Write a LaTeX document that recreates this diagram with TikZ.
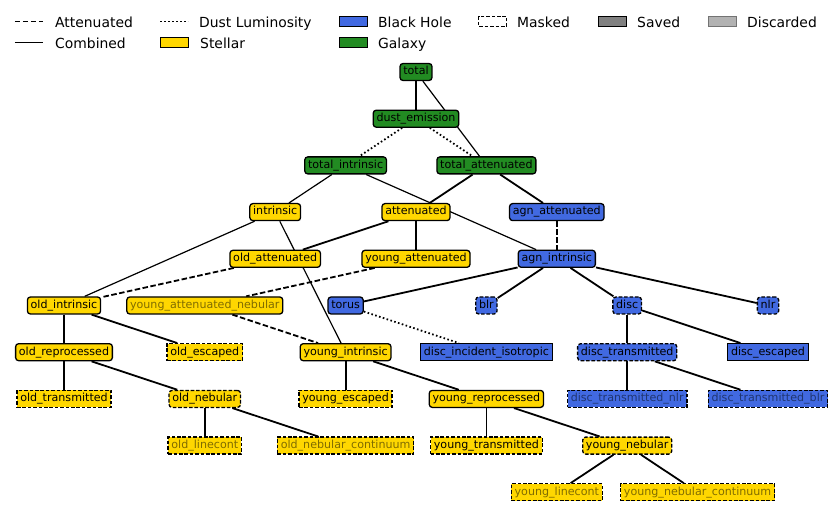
\documentclass[tikz,border=0pt]{standalone}
\usepackage{fontspec}
\setmainfont{DejaVu Sans}
\definecolor{stellargold}{RGB}{255,215,0}
\definecolor{bhblue}{RGB}{65,105,225}
\definecolor{galgreen}{RGB}{34,139,34}
\newcommand{\nodefont}{\fontsize{11.1}{13}\selectfont}
\newcommand{\legfont}{\fontsize{13.9}{16}\selectfont}
\pgfdeclarelayer{edgelayer}
\pgfsetlayers{edgelayer,main}
\begin{document}
\begin{tikzpicture}[x=70.4pt,y=-46.7pt,
    box/.style={draw,line width=1.3pt,rounded corners=3pt,inner xsep=3.3pt,inner ysep=3pt,
      text height=8.4pt,text depth=2.6pt,font=\nodefont},
    st/.style={box,fill=stellargold},
    bh/.style={box,fill=bhblue},
    gal/.style={box,fill=galgreen},
    leaf/.style={rounded corners=0pt},
    masked/.style={dash pattern=on 3.6pt off 1.8pt},
    stgone/.style={text=black!50!stellargold},
    bhgone/.style={text=black!50!bhblue},
    edge/.style={line width=1.8pt},
    thinedge/.style={line width=1.2pt},
    attline/.style={edge,dash pattern=on 5.5pt off 2.5pt},
    dustline/.style={edge,dash pattern=on 1.6pt off 2.4pt},
    legtext/.style={anchor=base west,inner sep=0pt,font=\legfont},
    patch/.style={line width=1.1pt}]
  \useasboundingbox (-64pt,72pt) rectangle (771pt,-449pt);
  % galaxy
  \node[gal] (tot) at (5,0) {total};
  \node[gal] (dust) at (5,1) {dust\_emission};
  \node[gal] (totint) at (4,2) {total\_intrinsic};
  \node[gal] (totatt) at (6,2) {total\_attenuated};
  % combined level
  \node[st] (intr) at (3,3) {intrinsic};
  \node[st] (att) at (5,3) {attenuated};
  \node[bh] (agnatt) at (7,3) {agn\_attenuated};
  \node[st] (oldatt) at (3,4) {old\_attenuated};
  \node[st] (youngatt) at (5,4) {young\_attenuated};
  \node[bh] (agnint) at (7,4) {agn\_intrinsic};
  % stellar tree
  \node[st] (oldint) at (0,5) {old\_intrinsic};
  \node[st,stgone] (yattneb) at (2,5) {young\_attenuated\_nebular};
  \node[st] (oldrep) at (0,6) {old\_reprocessed};
  \node[st,leaf,masked] (oldesc) at (2,6) {old\_escaped};
  \node[st] (youngint) at (4,6) {young\_intrinsic};
  \node[st,leaf,masked] (oldtr) at (0,7) {old\_transmitted};
  \node[st,masked] (oldneb) at (2,7) {old\_nebular};
  \node[st,leaf,masked] (youngesc) at (4,7) {young\_escaped};
  \node[st] (youngrep) at (6,7) {young\_reprocessed};
  \node[st,leaf,masked,stgone] (oldlc) at (2,8) {old\_linecont};
  \node[st,leaf,masked,stgone] (oldnc) at (4,8) {old\_nebular\_continuum};
  \node[st,leaf,masked] (youngtr) at (6,8) {young\_transmitted};
  \node[st,masked] (youngneb) at (8,8) {young\_nebular};
  \node[st,leaf,masked,stgone] (younglc) at (7,9) {young\_linecont};
  \node[st,leaf,masked,stgone] (youngnc) at (9,9) {young\_nebular\_continuum};
  % agn tree
  \node[bh] (torus) at (4,5) {torus};
  \node[bh,masked] (blr) at (6,5) {blr};
  \node[bh,masked] (disc) at (8,5) {disc};
  \node[bh,masked] (nlr) at (10,5) {nlr};
  \node[bh,leaf] (discinc) at (6,6) {disc\_incident\_isotropic};
  \node[bh,masked] (disctr) at (8,6) {disc\_transmitted};
  \node[bh,leaf] (discesc) at (10,6) {disc\_escaped};
  \node[bh,leaf,masked,bhgone] (dtnlr) at (8,7) {disc\_transmitted\_nlr};
  \node[bh,leaf,masked,bhgone] (dtblr) at (10,7) {disc\_transmitted\_blr};
  \begin{pgfonlayer}{edgelayer}
    \foreach \a/\b in {tot/dust,totatt/att,totatt/agnatt,att/oldatt,att/youngatt,
        agnint/torus,agnint/blr,agnint/disc,agnint/nlr,oldint/oldrep,oldint/oldesc,
        oldrep/oldtr,oldrep/oldneb,oldneb/oldlc,oldneb/oldnc,youngint/youngesc,
        youngint/youngrep,youngrep/youngtr,youngrep/youngneb,youngneb/younglc,
        youngneb/youngnc,disc/disctr,disc/discesc,disctr/dtnlr,disctr/dtblr}
      \draw[edge] (\a) -- (\b);
    \foreach \a/\b in {tot/totatt,totint/intr,totint/agnint,intr/oldint,intr/youngint}
      \draw[thinedge] (\a) -- (\b);
    \foreach \a/\b in {agnatt/agnint,oldatt/oldint,youngatt/yattneb,yattneb/youngint}
      \draw[attline] (\a) -- (\b);
    \foreach \a/\b in {dust/totint,dust/totatt,torus/discinc}
      \draw[dustline] (\a) -- (\b);
  \end{pgfonlayer}
  % legend, in pixel units
  \begin{scope}[shift={(-64pt,72pt)},x=1pt,y=-1pt]
    \draw[attline] (15,21.5) coordinate (la1) -- (43,21.5) coordinate (la2);
    \draw[edge] (15,42.5) coordinate (lc1) -- (43,42.5) coordinate (lc2);
    \draw[dustline] (160,21.5) coordinate (ld1) -- (188,21.5) coordinate (ld2);
    \draw[patch,fill=stellargold] (160.5,37.5) rectangle (188.5,47.5);
    \draw[patch,fill=bhblue] (339.5,16.5) rectangle (367.5,26.5);
    \draw[patch,fill=galgreen] (339.5,37.5) rectangle (367.5,47.5);
    \draw[patch,masked] (478.5,16.5) rectangle (506.5,26.5);
    \draw[patch,fill=black!50] (598.5,16.5) rectangle (626.5,26.5);
    \draw[patch,draw=black!55,fill=black!30] (708.5,16.5) rectangle (736.5,26.5);
    \node[legtext] (lat) at (55,27.3) {Attenuated};
    \node[legtext] (lcb) at (55,48.3) {Combined};
    \node[legtext] (ldl) at (199,27.3) {Dust Luminosity};
    \node[legtext] (lst) at (200,48.3) {Stellar};
    \node[legtext] (lbh) at (378,27.3) {Black Hole};
    \node[legtext] (lgx) at (378,48.3) {Galaxy};
    \node[legtext] (lmk) at (517,27.3) {Masked};
    \node[legtext] (lsv) at (637,27.3) {Saved};
    \node[legtext] (ldc) at (747,27.3) {Discarded};
  \end{scope}
\end{tikzpicture}
\end{document}
